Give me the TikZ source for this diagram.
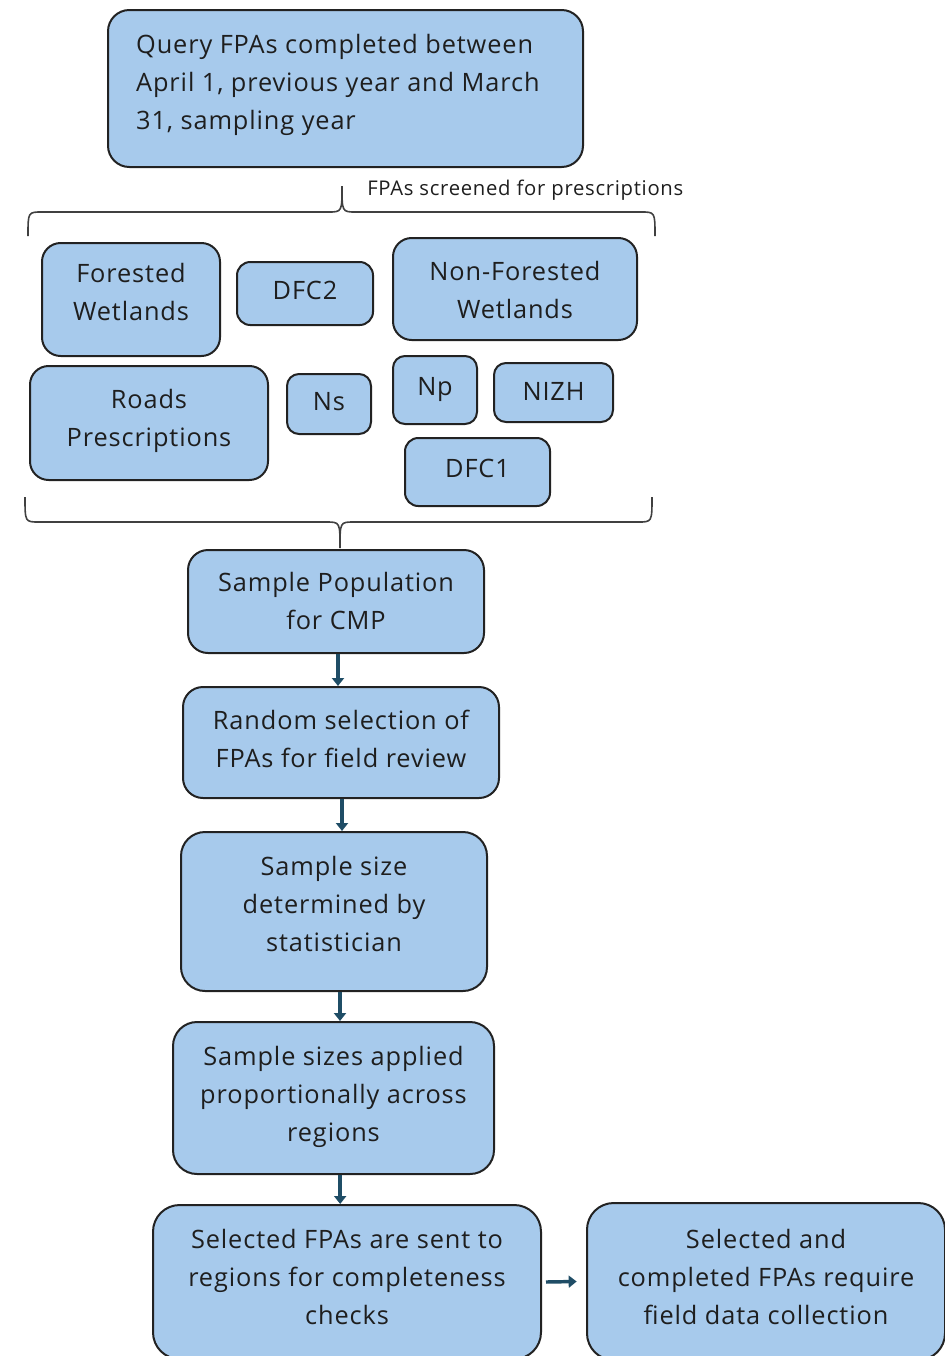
\documentclass[tikz,border=0pt]{standalone}
\usepackage{fontspec}
\setmainfont{Open Sans}[LetterSpace=3.5]
\usetikzlibrary{arrows.meta}
\definecolor{boxfill}{HTML}{A7CAEC}
\definecolor{boxline}{HTML}{222222}
\definecolor{txt}{HTML}{1E1E1E}
\definecolor{arrc}{HTML}{1F4D66}
\newcommand\bt[2][0pt]{\raisebox{#1}[\height][\depth]{\begin{tabular}{@{}c@{}}#2\end{tabular}}}
\tikzset{
  box/.style={draw=boxline, line width=1.5pt, fill=boxfill, rounded corners=#1, text=txt, align=center, font=\fontsize{19}{28.5}\selectfont, inner sep=0pt},
  box/.default=9pt,
  sz/.style n args={2}{minimum width=0.75*#1pt, minimum height=0.75*#2pt},
  arr/.style={draw=arrc, line width=2.6pt, -{Triangle[length=6pt,width=9pt]}},
  brace/.style={draw=black!75, line width=1.2pt}
}
\begin{document}
\begin{tikzpicture}[x=0.75pt,y=-0.75pt]
\useasboundingbox (0,0) rectangle (945,1356);

% top box
\node[box=16pt, sz={475}{157}] (q) at (345.5,88.5)
  {\raisebox{3pt}[\height][\depth]{\parbox{314pt}{\raggedright Query FPAs completed between\\April 1, previous year and March\\31, sampling year}}};

% label of top brace
\node[anchor=west, font=\fontsize{15.2}{17}\selectfont, text=txt, inner sep=0pt] (lbl) at (367,190) {FPAs screened for prescriptions};

% braces
\draw[brace] (28,236) .. controls (28,212) .. (42,212) -- (328,212)
  .. controls (342,212) .. (342,186) .. controls (342,212) .. (356,212)
  -- (641,212) .. controls (655,212) .. (655,236);
\draw[brace] (25,497) .. controls (25,522) .. (39,522) -- (326,522)
  .. controls (340,522) .. (340,548) .. controls (340,522) .. (354,522)
  -- (638,522) .. controls (652,522) .. (652,497);

% prescription boxes
\node[box=14pt, sz={178}{113}] (fw) at (131,299.5) {\bt[4.5pt]{Forested\\Wetlands}};
\node[box=10pt, sz={136}{63}] (dfc2) at (305,293.5) {\bt[1.5pt]{DFC2}};
\node[box=14pt, sz={244}{102}] (nfw) at (515,289) {\bt[-2.25pt]{Non-Forested\\Wetlands}};
\node[box=14pt, sz={238}{114}] (rp) at (149,423) {\bt[2pt]{Roads\\Prescriptions}};
\node[box=9pt, sz={84}{60}] (ns) at (329,404) {\bt[0.75pt]{Ns}};
\node[box=9pt, sz={84}{68}] (np) at (435,390) {\bt[1.5pt]{Np}};
\node[box=9pt, sz={119}{59}] (nizh) at (553.5,392.5) {\bt{NIZH}};
\node[box=10pt, sz={145}{68}] (dfc1) at (477.5,472) {\bt[1.5pt]{DFC1}};

% main flow
\node[box=15pt, sz={296}{103}] (sp) at (336,601.5) {\bt[-1pt]{Sample Population\\for CMP}};
\node[box=15pt, sz={316}{111}] (rs) at (341,742.5) {\bt[1.5pt]{Random selection of\\FPAs for field review}};
\node[box=18pt, sz={306}{159}] (ss) at (334,911.5) {\bt[4pt]{Sample size\\determined by\\statistician}};
\node[box=18pt, sz={321}{152}] (sa) at (333.5,1098) {\bt[1.5pt]{Sample sizes applied\\proportionally across\\regions}};
\node[box=20pt, sz={388}{154}] (sel) at (347,1282) {\bt[2pt]{Selected FPAs are sent to\\regions for completeness\\checks}};
\node[box=20pt, sz={358}{157}] (fin) at (766,1281.5) {\bt[2pt]{Selected and\\completed FPAs require\\field data collection}};

% arrows
\draw[arr] ([xshift=1.5pt]sp.south) -- ([xshift=1.5pt]sp.south |- rs.north);
\draw[arr] ([xshift=0.75pt]rs.south) -- ([xshift=0.75pt]rs.south |- ss.north);
\draw[arr] ([xshift=4.5pt]ss.south) -- ([xshift=4.5pt]ss.south |- sa.north);
\draw[arr] ([xshift=5pt]sa.south) -- ([xshift=5pt]sa.south |- sel.north);
\draw[arr] ([xshift=3pt,yshift=0pt]sel.east) -- ([xshift=-7pt,yshift=0pt]fin.west);
\end{tikzpicture}
\end{document}
